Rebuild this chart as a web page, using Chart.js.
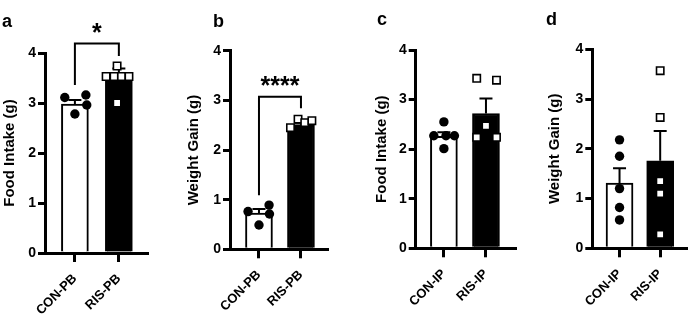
<!DOCTYPE html>
<html>
<head>
<meta charset="utf-8">
<script src="https://cdn.jsdelivr.net/npm/chart.js@4"></script>
<style>
    html, body { margin: 0; padding: 0; background: #fff; }
    #wrap { position: relative; width: 693px; height: 325px; }
    #wrap canvas { position: absolute; left: 0; top: 0; }
</style>
</head>
<body>
<div id="wrap">
    <canvas id="painel-a" width="693" height="325"></canvas>
    <canvas id="painel-b" width="693" height="325"></canvas>
    <canvas id="painel-c" width="693" height="325"></canvas>
    <canvas id="painel-d" width="693" height="325"></canvas>
</div>
<script>
const groupsPB = ['CON-PB', 'RIS-PB']
const groupsIP = ['CON-IP', 'RIS-IP']
const yTicks = [0, 1, 2, 3, 4]

// a - food intake, PB
const foodPbMean = [2.98, 3.61]
const foodPbSem = [0.08, 0.08]
const foodPbCon = [3.11, 3.16, 2.96, 2.78]
const foodPbConJitter = [-0.23, 0.25, 0.27, 0]
const foodPbRis = [3.74, 3.53, 3.53, 3.53, 3.53, 3.0]
const foodPbRisJitter = [-0.04, -0.29, -0.11, 0.06, 0.23, -0.04]

// b - weight gain, PB
const weightPbMean = [0.73, 2.51]
const weightPbSem = [0.08, 0.04]
const weightPbCon = [0.76, 0.89, 0.71, 0.49]
const weightPbConJitter = [-0.26, 0.24, 0.25, 0]
const weightPbRis = [2.45, 2.62, 2.55, 2.59]
const weightPbRisJitter = [-0.25, -0.07, 0.09, 0.26]

// c - food intake, IP
const foodIpMean = [2.26, 2.72]
const foodIpSem = [0.08, 0.3]
const foodIpCon = [2.55, 2.27, 2.27, 2.27, 2.01]
const foodIpConJitter = [0, -0.24, 0.05, 0.25, 0]
const foodIpRis = [3.43, 3.39, 2.47, 2.24, 2.24]
const foodIpRisJitter = [-0.22, 0.25, 0, -0.22, 0.25]

// d - weight gain, IP
const weightIpMean = [1.31, 1.76]
const weightIpSem = [0.3, 0.6]
const weightIpCon = [2.18, 1.85, 1.2, 0.82, 0.57]
const weightIpConJitter = [0, 0, 0, 0, 0]
const weightIpRis = [3.57, 2.63, 1.35, 1.1, 0.28]
const weightIpRisJitter = [0, 0, 0, 0, 0]

// significance brackets: bracket height, left/right leg ends
const bracketA = { top: 4.19, left: 3.36, right: 3.94, label: '*' }
const bracketB = { top: 3.07, left: 1.09, right: 2.84, label: '****' }

const fonte = '"Liberation Sans", Arial, sans-serif'

const paineis = [
    {
        id: 'painel-a', letra: 'a', letraX: 2, letraY: 27, titulo: 'Food Intake (g)',
        labels: groupsPB, mean: foodPbMean, sem: foodPbSem,
        con: foodPbCon, conJ: foodPbConJitter, ris: foodPbRis, risJ: foodPbRisJitter,
        bracket: bracketA,
        area: { left: 45, top: 53, bottom: 253, right: 147 }, yWidth: 44, xMin: -0.68, xMax: 1.64
    },
    {
        id: 'painel-b', letra: 'b', letraX: 213, letraY: 27, titulo: 'Weight Gain (g)',
        labels: groupsPB, mean: weightPbMean, sem: weightPbSem,
        con: weightPbCon, conJ: weightPbConJitter, ris: weightPbRis, risJ: weightPbRisJitter,
        bracket: bracketB,
        area: { left: 230, top: 50.7, bottom: 249.3, right: 327 }, yWidth: 45, xMin: -0.69, xMax: 1.62
    },
    {
        id: 'painel-c', letra: 'c', letraX: 377, letraY: 25, titulo: 'Food Intake (g)',
        labels: groupsIP, mean: foodIpMean, sem: foodIpSem,
        con: foodIpCon, conJ: foodIpConJitter, ris: foodIpRis, risJ: foodIpRisJitter,
        bracket: null,
        area: { left: 415.7, top: 50, bottom: 248.3, right: 515 }, yWidth: 43, xMin: -0.67, xMax: 1.69
    },
    {
        id: 'painel-d', letra: 'd', letraX: 546, letraY: 25, titulo: 'Weight Gain (g)',
        labels: groupsIP, mean: weightIpMean, sem: weightIpSem,
        con: weightIpCon, conJ: weightIpConJitter, ris: weightIpRis, risJ: weightIpRisJitter,
        bracket: null,
        area: { left: 592.3, top: 49.3, bottom: 248.3, right: 691.7 }, yWidth: 46, xMin: -0.67, xMax: 1.64
    }
]

function pontos(valores, jitter, grupo) {
    return valores.map((v, i) => ({ x: grupo + jitter[i], y: v }))
}

function extrasPlugin(p) {
    return {
        id: 'extras',
        // error bars go between the bars and the scatter points
        afterDatasetDraw(chart, args) {
            if (args.index !== 0) return
            const c = chart.ctx
            const x = chart.scales.x
            const y = chart.scales.y
            c.save()
            c.strokeStyle = '#000'
            c.lineWidth = 2
            p.mean.forEach((m, i) => {
                const px = x.getPixelForValue(i)
                const y0 = y.getPixelForValue(m)
                const y1 = y.getPixelForValue(m + p.sem[i])
                c.beginPath()
                c.moveTo(px, y0)
                c.lineTo(px, y1)
                c.moveTo(px - 6.5, y1)
                c.lineTo(px + 6.5, y1)
                c.stroke()
            })
            c.restore()
        },
        afterDraw(chart) {
            const c = chart.ctx
            c.save()
            c.fillStyle = '#000'
            c.font = 'bold 18px ' + fonte
            c.textAlign = 'left'
            c.textBaseline = 'alphabetic'
            c.fillText(p.letra, p.letraX, p.letraY)

            if (p.bracket) {
                const x = chart.scales.x
                const y = chart.scales.y
                const b = p.bracket
                const x0 = x.getPixelForValue(0)
                const x1 = x.getPixelForValue(1)
                const yt = y.getPixelForValue(b.top)
                c.strokeStyle = '#000'
                c.lineWidth = 2
                c.beginPath()
                c.moveTo(x0, y.getPixelForValue(b.left))
                c.lineTo(x0, yt)
                c.lineTo(x1, yt)
                c.lineTo(x1, y.getPixelForValue(b.right))
                c.stroke()
                c.font = 'bold 25px ' + fonte
                c.textAlign = 'center'
                c.fillText(b.label, (x0 + x1) / 2, yt - 3)
            }
            c.restore()
        }
    }
}

function desenharPainel(p) {
    const ctx = document.getElementById(p.id)

    new Chart(ctx, {
        type: 'bar',
        data: {
            datasets: [
                {
                    type: 'bar',
                    data: p.mean.map((m, i) => ({ x: i, y: m })),
                    backgroundColor: ['#fff', '#000'],
                    borderColor: '#000',
                    borderWidth: 2,
                    borderSkipped: 'bottom',
                    barThickness: 27,
                    order: 3
                },
                {
                    type: 'scatter',
                    data: pontos(p.con, p.conJ, 0),
                    pointStyle: 'circle',
                    pointRadius: 4.7,
                    pointBackgroundColor: '#000',
                    pointBorderWidth: 0,
                    clip: false,
                    order: 2
                },
                {
                    type: 'scatter',
                    data: pontos(p.ris, p.risJ, 1),
                    pointStyle: 'rect',
                    pointRadius: 5.2,
                    pointBackgroundColor: '#fff',
                    pointBorderColor: '#000',
                    pointBorderWidth: 1.6,
                    clip: false,
                    order: 1
                }
            ]
        },
        options: {
            responsive: false,
            animation: false,
            devicePixelRatio: 1,
            layout: {
                padding: {
                    left: p.area.left - p.yWidth,
                    top: p.area.top,
                    right: 693 - p.area.right,
                    bottom: 0
                }
            },
            plugins: {
                legend: { display: false },
                tooltip: { enabled: false }
            },
            scales: {
                x: {
                    type: 'linear',
                    min: p.xMin,
                    max: p.xMax,
                    offset: false,
                    afterBuildTicks: (scale) => {
                        scale.ticks = p.labels.map((l, i) => ({ value: i }))
                    },
                    afterFit: (scale) => { scale.height = 325 - p.area.bottom },
                    border: { display: true, color: '#000', width: 3 },
                    grid: {
                        offset: false,
                        drawOnChartArea: false,
                        drawTicks: true,
                        tickLength: 9,
                        tickWidth: 3,
                        lineWidth: 3,
                        tickColor: '#000'
                    },
                    ticks: {
                        autoSkip: false,
                        minRotation: 45,
                        maxRotation: 45,
                        padding: 9,
                        color: '#000',
                        font: { family: fonte, size: 13, weight: 'bold' },
                        callback: (v) => p.labels[v]
                    }
                },
                y: {
                    min: 0,
                    max: 4,
                    afterBuildTicks: (scale) => {
                        scale.ticks = yTicks.map(v => ({ value: v }))
                    },
                    afterFit: (scale) => { scale.width = p.yWidth },
                    border: { display: true, color: '#000', width: 3 },
                    grid: {
                        drawOnChartArea: false,
                        drawTicks: true,
                        tickLength: 7,
                        tickWidth: 3,
                        lineWidth: 3,
                        tickColor: '#000'
                    },
                    ticks: {
                        padding: 2,
                        color: '#000',
                        font: { family: fonte, size: 14, weight: 'bold' }
                    },
                    title: {
                        display: true,
                        text: p.titulo,
                        color: '#000',
                        padding: 0,
                        font: { family: fonte, size: 15, weight: 'bold' }
                    }
                }
            }
        },
        plugins: [extrasPlugin(p)]
    })
}

paineis.forEach(desenharPainel)
</script>
</body>
</html>
